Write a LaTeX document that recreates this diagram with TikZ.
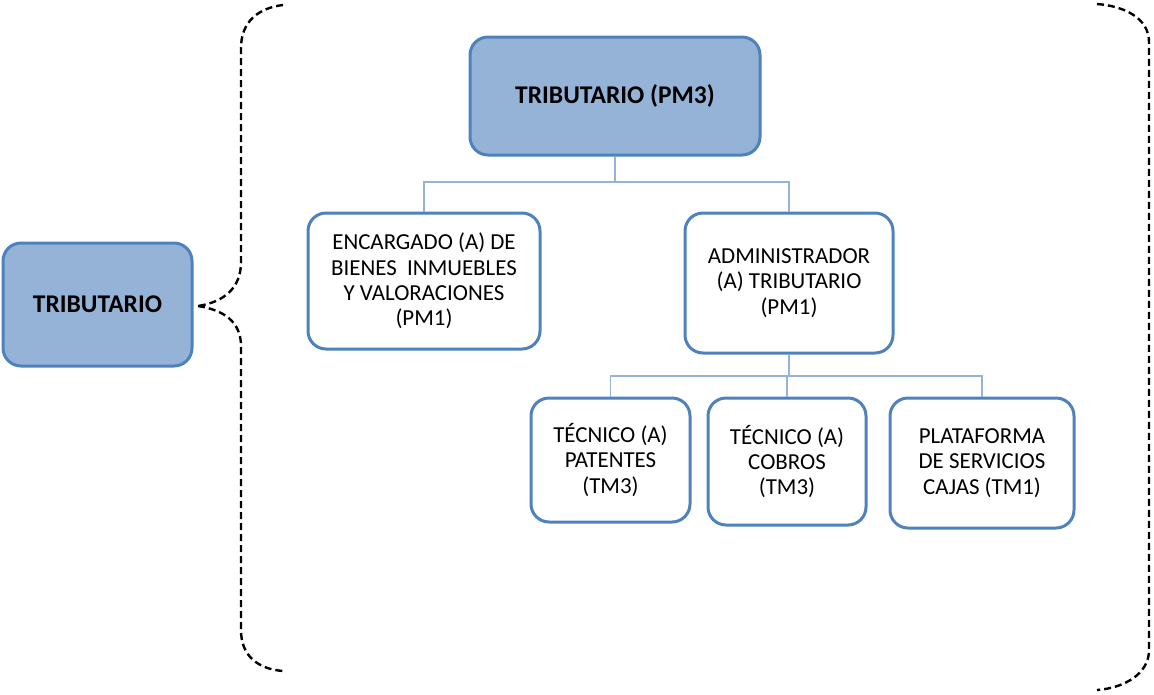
\documentclass[tikz,border=0pt]{standalone}
\usepackage{fontspec}
\setmainfont{Carlito}
\usetikzlibrary{positioning}
\definecolor{cajaborde}{RGB}{79,129,189}
\definecolor{cajarelleno}{RGB}{149,179,215}
\definecolor{lineaazul}{RGB}{149,179,215}
\tikzset{
  jefe/.style = {draw = cajaborde, fill = cajarelleno, line width = 3pt, rounded corners = 18pt, align = center, font = \fontsize{25.5}{29}\selectfont\bfseries},
  puesto/.style = {draw = cajaborde, fill = white, line width = 3pt, rounded corners = 18pt, align = center, font = \fontsize{22.9}{25.2}\selectfont},
  enlace/.style = {draw = lineaazul, line width = 1.3pt},
  llave/.style = {draw = black, line width = 2.4pt, dash pattern = on 7pt off 4pt}
}
\begin{document}
\begin{tikzpicture}[x = 1pt, y = -1pt]
\useasboundingbox (0,0) rectangle (1154,694);
\pgfmathsetmacro\bus{182}
\pgfmathsetmacro\busb{376}
\node[jefe, minimum width = 189pt, minimum height = 123pt] (area) at (97.5,304.5) {TRIBUTARIO};
\node[jefe, minimum width = 290pt, minimum height = 118pt] (jefatura) at (615,96) {TRIBUTARIO (PM3)};
\node[puesto, minimum width = 232pt, minimum height = 136pt] (encargado) at (424,281) {ENCARGADO (A) DE\\BIENES\ \ INMUEBLES\\Y VALORACIONES\\(PM1)};
\node[puesto, minimum width = 208pt, minimum height = 140pt] (admin) at (789,283) {ADMINISTRADOR\\(A) TRIBUTARIO\\(PM1)};
\node[puesto, minimum width = 159pt, minimum height = 124pt] (patentes) at (610.5,460) {TÉCNICO (A)\\PATENTES\\(TM3)};
\node[puesto, minimum width = 158pt, minimum height = 127pt] (cobros) at (787,461.5) {TÉCNICO (A)\\COBROS\\(TM3)};
\node[puesto, minimum width = 184pt, minimum height = 130pt] (plataforma) at (982,463) {PLATAFORMA\\DE SERVICIOS\\CAJAS (TM1)};
\draw[enlace] (jefatura.south) -- (jefatura.south |- 0,\bus) coordinate (b1);
\foreach \n in {encargado,admin} \draw[enlace] (b1) -| (\n.north);
\draw[enlace] (admin.south) -- (admin.south |- 0,\busb) coordinate (b2);
\foreach \n in {patentes,cobros,plataforma} \draw[enlace] (b2) -| (\n.north);
\coordinate (punta) at (198,306);
\draw[llave] (283,5) .. controls (258,8) and (241,22) .. (241,48) -- (241,262) .. controls (241,288) and (224,302) .. (punta);
\draw[llave] (punta) .. controls (224,310) and (241,322) .. (241,346) -- (241,630) .. controls (241,656) and (258,669) .. (283,671);
\draw[llave] (1097,4) .. controls (1124,6) and (1149,18) .. (1149,42) -- (1149,650) .. controls (1149,674) and (1124,688) .. (1097,690);
\end{tikzpicture}
\end{document}
